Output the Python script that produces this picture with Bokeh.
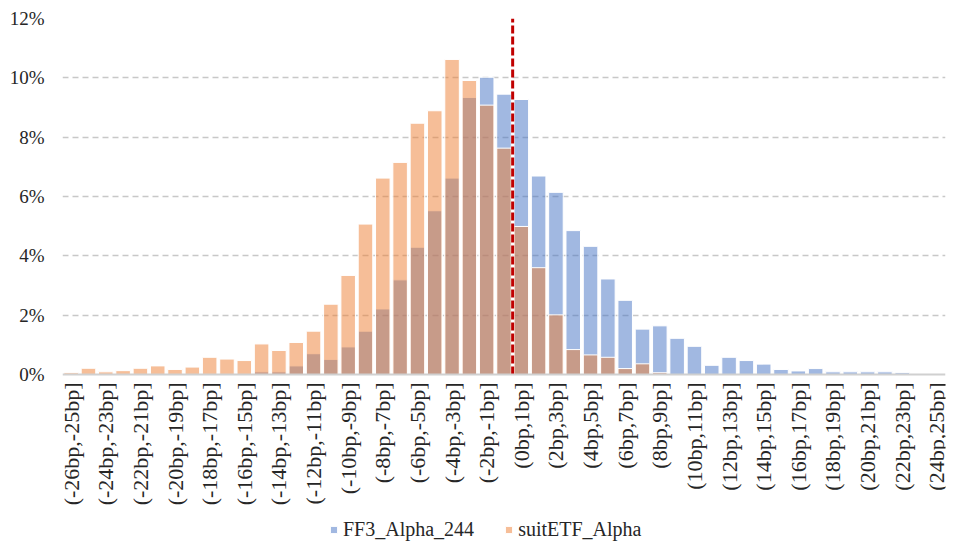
import math
from bokeh.plotting import figure
from bokeh.models import ColumnDataSource, FixedTicker, Legend, LegendItem, NumeralTickFormatter, Range1d, Span
from bokeh.core.properties import value
from bokeh.embed import file_html
from bokeh.resources import INLINE

categories = [
    "(-26bp,-25bp]", "(-25bp,-24bp]", "(-24bp,-23bp]", "(-23bp,-22bp]", "(-22bp,-21bp]",
    "(-21bp,-20bp]", "(-20bp,-19bp]", "(-19bp,-18bp]", "(-18bp,-17bp]", "(-17bp,-16bp]",
    "(-16bp,-15bp]", "(-15bp,-14bp]", "(-14bp,-13bp]", "(-13bp,-12bp]", "(-12bp,-11bp]",
    "(-11bp,-10bp]", "(-10bp,-9bp]", "(-9bp,-8bp]", "(-8bp,-7bp]", "(-7bp,-6bp]",
    "(-6bp,-5bp]", "(-5bp,-4bp]", "(-4bp,-3bp]", "(-3bp,-2bp]", "(-2bp,-1bp]",
    "(-1bp,0bp]", "(0bp,1bp]", "(1bp,2bp]", "(2bp,3bp]", "(3bp,4bp]",
    "(4bp,5bp]", "(5bp,6bp]", "(6bp,7bp]", "(7bp,8bp]", "(8bp,9bp]",
    "(9bp,10bp]", "(10bp,11bp]", "(11bp,12bp]", "(12bp,13bp]", "(13bp,14bp]",
    "(14bp,15bp]", "(15bp,16bp]", "(16bp,17bp]", "(17bp,18bp]", "(18bp,19bp]",
    "(19bp,20bp]", "(20bp,21bp]", "(21bp,22bp]", "(22bp,23bp]", "(23bp,24bp]",
    "(24bp,25bp]",
]

ff3_alpha_244 = [
    0.0, 0.0, 0.0, 0.0, 0.0, 0.0, 0.0, 0.0, 0.0, 0.0,
    0.0, 0.09, 0.09, 0.29, 0.70, 0.51, 0.93, 1.46, 2.21, 3.19,
    4.29, 5.52, 6.62, 9.34, 10.02, 9.45, 9.27, 6.69, 6.14, 4.85,
    4.32, 3.22, 2.50, 1.53, 1.64, 1.22, 0.95, 0.31, 0.58, 0.47,
    0.35, 0.17, 0.12, 0.20, 0.09, 0.09, 0.09, 0.09, 0.06, 0.02,
    0.02,
]

suitetf_alpha = [
    0.06, 0.21, 0.09, 0.13, 0.21, 0.29, 0.17, 0.25, 0.58, 0.52,
    0.47, 1.03, 0.81, 1.08, 1.46, 2.37, 3.34, 5.07, 6.62, 7.15,
    8.47, 8.89, 10.62, 9.91, 9.08, 7.63, 4.99, 3.60, 2.01, 0.84,
    0.66, 0.58, 0.20, 0.36, 0.06, 0.0, 0.0, 0.0, 0.0, 0.0,
    0.0, 0.0, 0.0, 0.0, 0.0, 0.0, 0.0, 0.0, 0.0, 0.0,
    0.0,
]

y_ticks = [0.0, 0.02, 0.04, 0.06, 0.08, 0.10, 0.12]
y_max = 0.12
zero_boundary = 25.5  # boundary between (-1bp,0bp] and (0bp,1bp]

idx = list(range(len(categories)))
source = ColumnDataSource(dict(
    x=idx,
    cat=categories,
    ff3=[v / 100 for v in ff3_alpha_244],
    etf=[v / 100 for v in suitetf_alpha],
))
label_source = ColumnDataSource(dict(
    x=idx[::2],
    y=[0.0] * len(idx[::2]),
    text=categories[::2],
))

FONT = "'Liberation Serif', 'Times New Roman', serif"
FONT_GLYPH = "Times"
FONT_LEGEND = "Times"
TXT = "#262626"

# frame spans from the 12% line down to the bottom of the page so that the
# category labels and legend sit inside it, below the zero line
FRAME_H = 523
PLOT_H = 356
y_start = -y_max * (FRAME_H - PLOT_H) / PLOT_H

p = figure(
    frame_width=883, frame_height=FRAME_H,
    x_range=Range1d(-0.5, len(categories) - 0.5),
    y_range=Range1d(y_start, y_max),
    x_axis_location=None,
    output_backend="svg", toolbar_location=None,
    min_border_left=62, min_border_top=18, min_border_right=3, min_border_bottom=0,
)
p.outline_line_color = None
p.background_fill_color = "white"

r1 = p.vbar(x="x", top="ff3", width=0.84, source=source,
            fill_color="#4472C4", fill_alpha=0.5, line_color="white", line_width=1)
r2 = p.vbar(x="x", top="etf", width=0.84, source=source,
            fill_color="#ED7D31", fill_alpha=0.5, line_color="white", line_width=1)

# zero axis line
p.add_layout(Span(location=0, dimension="width", line_color="#D0D0D0", line_width=2))

# red dashed boundary at 0bp
p.segment(x0=[zero_boundary], y0=[0], x1=[zero_boundary], y1=[y_max],
          line_color="#C00000", line_width=3, line_dash="8 3")

# category labels (every other bin), rotated, hanging below the zero line
p.text(x="x", y="y", text="text", source=label_source,
       angle=math.pi / 2, text_align="right", text_baseline="middle",
       y_offset=8, text_font=value(FONT_GLYPH), text_font_size="22px", text_color=TXT)

# y axis
p.yaxis.ticker = FixedTicker(ticks=y_ticks)
p.yaxis.formatter = NumeralTickFormatter(format="0%")
p.yaxis.major_label_text_font = FONT
p.yaxis.major_label_text_font_size = "19px"
p.yaxis.major_label_text_color = TXT
p.yaxis.axis_line_color = None
p.yaxis.major_tick_line_color = None
p.yaxis.minor_tick_line_color = None
p.yaxis.major_label_standoff = 12

p.xgrid.grid_line_color = None
p.ygrid.ticker = FixedTicker(ticks=y_ticks[1:])
p.ygrid.grid_line_color = "#C8C8C8"
p.ygrid.grid_line_dash = "6 4"
p.ygrid.grid_line_width = 1.3

legend = Legend(items=[
    LegendItem(label="FF3_Alpha_244", renderers=[r1]),
    LegendItem(label="suitETF_Alpha", renderers=[r2]),
], orientation="horizontal", location=(267, 0))
legend.label_text_font = FONT_LEGEND
legend.label_text_font_size = "20px"
legend.label_text_color = TXT
legend.glyph_width = 9
legend.glyph_height = 9
legend.spacing = 30
legend.label_standoff = 5
legend.border_line_color = None
legend.background_fill_alpha = 0
legend.margin = 0
legend.padding = 0
p.add_layout(legend)

open("out.html", "w").write(file_html(p, INLINE))
